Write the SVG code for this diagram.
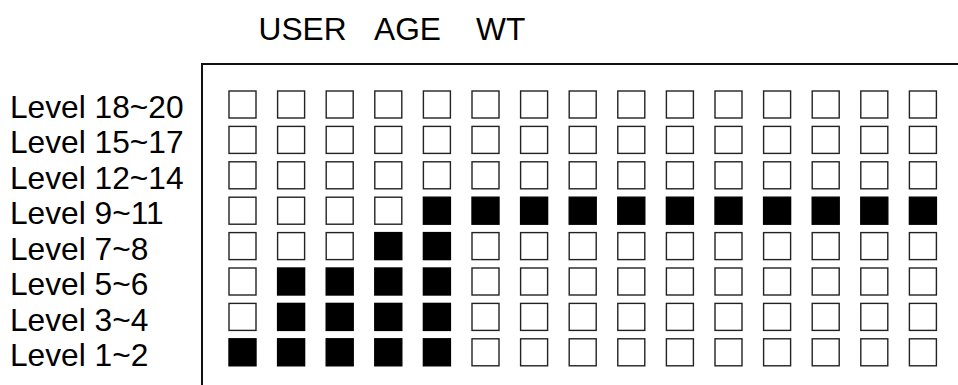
<svg xmlns="http://www.w3.org/2000/svg" width="958" height="385" viewBox="0 0 958 385">
<style>
text{font-family:"Liberation Sans",Arial,sans-serif;font-size:31.7px;fill:#000}
.e{fill:#fff;stroke:#222;stroke-width:1.4}
.f{fill:#000;stroke:#000;stroke-width:1.4}
</style>
<rect width="958" height="385" fill="#fff"/>
<g id="headers">
<text x="258.5" y="40">USER</text>
<text x="374" y="40">AGE</text>
<text x="476" y="40">WT</text>
</g>
<g id="frame"><polyline points="202,385 202,64 958,64" fill="none" stroke="#111" stroke-width="2"/></g>
<g id="labels">
<text x="10" y="117.5">Level 18~20</text>
<text x="10" y="153">Level 15~17</text>
<text x="10" y="188.5">Level 12~14</text>
<text x="10" y="224">Level 9~11</text>
<text x="10" y="259.5">Level 7~8</text>
<text x="10" y="295">Level 5~6</text>
<text x="10" y="330.5">Level 3~4</text>
<text x="10" y="366">Level 1~2</text>
</g>
<g id="row-18-20">
<rect class="e" x="229" y="91" width="27" height="27"/><rect class="e" x="277.6" y="91" width="27" height="27"/><rect class="e" x="326.2" y="91" width="27" height="27"/><rect class="e" x="374.8" y="91" width="27" height="27"/><rect class="e" x="423.4" y="91" width="27" height="27"/><rect class="e" x="472" y="91" width="27" height="27"/><rect class="e" x="520.6" y="91" width="27" height="27"/><rect class="e" x="569.2" y="91" width="27" height="27"/><rect class="e" x="617.8" y="91" width="27" height="27"/><rect class="e" x="666.4" y="91" width="27" height="27"/><rect class="e" x="715" y="91" width="27" height="27"/><rect class="e" x="763.6" y="91" width="27" height="27"/><rect class="e" x="812.2" y="91" width="27" height="27"/><rect class="e" x="860.8" y="91" width="27" height="27"/><rect class="e" x="909.4" y="91" width="27" height="27"/>
</g>
<g id="row-15-17">
<rect class="e" x="229" y="126.4" width="27" height="27"/><rect class="e" x="277.6" y="126.4" width="27" height="27"/><rect class="e" x="326.2" y="126.4" width="27" height="27"/><rect class="e" x="374.8" y="126.4" width="27" height="27"/><rect class="e" x="423.4" y="126.4" width="27" height="27"/><rect class="e" x="472" y="126.4" width="27" height="27"/><rect class="e" x="520.6" y="126.4" width="27" height="27"/><rect class="e" x="569.2" y="126.4" width="27" height="27"/><rect class="e" x="617.8" y="126.4" width="27" height="27"/><rect class="e" x="666.4" y="126.4" width="27" height="27"/><rect class="e" x="715" y="126.4" width="27" height="27"/><rect class="e" x="763.6" y="126.4" width="27" height="27"/><rect class="e" x="812.2" y="126.4" width="27" height="27"/><rect class="e" x="860.8" y="126.4" width="27" height="27"/><rect class="e" x="909.4" y="126.4" width="27" height="27"/>
</g>
<g id="row-12-14">
<rect class="e" x="229" y="161.8" width="27" height="27"/><rect class="e" x="277.6" y="161.8" width="27" height="27"/><rect class="e" x="326.2" y="161.8" width="27" height="27"/><rect class="e" x="374.8" y="161.8" width="27" height="27"/><rect class="e" x="423.4" y="161.8" width="27" height="27"/><rect class="e" x="472" y="161.8" width="27" height="27"/><rect class="e" x="520.6" y="161.8" width="27" height="27"/><rect class="e" x="569.2" y="161.8" width="27" height="27"/><rect class="e" x="617.8" y="161.8" width="27" height="27"/><rect class="e" x="666.4" y="161.8" width="27" height="27"/><rect class="e" x="715" y="161.8" width="27" height="27"/><rect class="e" x="763.6" y="161.8" width="27" height="27"/><rect class="e" x="812.2" y="161.8" width="27" height="27"/><rect class="e" x="860.8" y="161.8" width="27" height="27"/><rect class="e" x="909.4" y="161.8" width="27" height="27"/>
</g>
<g id="row-9-11">
<rect class="e" x="229" y="197.2" width="27" height="27"/><rect class="e" x="277.6" y="197.2" width="27" height="27"/><rect class="e" x="326.2" y="197.2" width="27" height="27"/><rect class="e" x="374.8" y="197.2" width="27" height="27"/><rect class="f" x="423.4" y="197.2" width="27" height="27"/><rect class="f" x="472" y="197.2" width="27" height="27"/><rect class="f" x="520.6" y="197.2" width="27" height="27"/><rect class="f" x="569.2" y="197.2" width="27" height="27"/><rect class="f" x="617.8" y="197.2" width="27" height="27"/><rect class="f" x="666.4" y="197.2" width="27" height="27"/><rect class="f" x="715" y="197.2" width="27" height="27"/><rect class="f" x="763.6" y="197.2" width="27" height="27"/><rect class="f" x="812.2" y="197.2" width="27" height="27"/><rect class="f" x="860.8" y="197.2" width="27" height="27"/><rect class="f" x="909.4" y="197.2" width="27" height="27"/>
</g>
<g id="row-7-8">
<rect class="e" x="229" y="232.6" width="27" height="27"/><rect class="e" x="277.6" y="232.6" width="27" height="27"/><rect class="e" x="326.2" y="232.6" width="27" height="27"/><rect class="f" x="374.8" y="232.6" width="27" height="27"/><rect class="f" x="423.4" y="232.6" width="27" height="27"/><rect class="e" x="472" y="232.6" width="27" height="27"/><rect class="e" x="520.6" y="232.6" width="27" height="27"/><rect class="e" x="569.2" y="232.6" width="27" height="27"/><rect class="e" x="617.8" y="232.6" width="27" height="27"/><rect class="e" x="666.4" y="232.6" width="27" height="27"/><rect class="e" x="715" y="232.6" width="27" height="27"/><rect class="e" x="763.6" y="232.6" width="27" height="27"/><rect class="e" x="812.2" y="232.6" width="27" height="27"/><rect class="e" x="860.8" y="232.6" width="27" height="27"/><rect class="e" x="909.4" y="232.6" width="27" height="27"/>
</g>
<g id="row-5-6">
<rect class="e" x="229" y="268" width="27" height="27"/><rect class="f" x="277.6" y="268" width="27" height="27"/><rect class="f" x="326.2" y="268" width="27" height="27"/><rect class="f" x="374.8" y="268" width="27" height="27"/><rect class="f" x="423.4" y="268" width="27" height="27"/><rect class="e" x="472" y="268" width="27" height="27"/><rect class="e" x="520.6" y="268" width="27" height="27"/><rect class="e" x="569.2" y="268" width="27" height="27"/><rect class="e" x="617.8" y="268" width="27" height="27"/><rect class="e" x="666.4" y="268" width="27" height="27"/><rect class="e" x="715" y="268" width="27" height="27"/><rect class="e" x="763.6" y="268" width="27" height="27"/><rect class="e" x="812.2" y="268" width="27" height="27"/><rect class="e" x="860.8" y="268" width="27" height="27"/><rect class="e" x="909.4" y="268" width="27" height="27"/>
</g>
<g id="row-3-4">
<rect class="e" x="229" y="303.4" width="27" height="27"/><rect class="f" x="277.6" y="303.4" width="27" height="27"/><rect class="f" x="326.2" y="303.4" width="27" height="27"/><rect class="f" x="374.8" y="303.4" width="27" height="27"/><rect class="f" x="423.4" y="303.4" width="27" height="27"/><rect class="e" x="472" y="303.4" width="27" height="27"/><rect class="e" x="520.6" y="303.4" width="27" height="27"/><rect class="e" x="569.2" y="303.4" width="27" height="27"/><rect class="e" x="617.8" y="303.4" width="27" height="27"/><rect class="e" x="666.4" y="303.4" width="27" height="27"/><rect class="e" x="715" y="303.4" width="27" height="27"/><rect class="e" x="763.6" y="303.4" width="27" height="27"/><rect class="e" x="812.2" y="303.4" width="27" height="27"/><rect class="e" x="860.8" y="303.4" width="27" height="27"/><rect class="e" x="909.4" y="303.4" width="27" height="27"/>
</g>
<g id="row-1-2">
<rect class="f" x="229" y="338.8" width="27" height="27"/><rect class="f" x="277.6" y="338.8" width="27" height="27"/><rect class="f" x="326.2" y="338.8" width="27" height="27"/><rect class="f" x="374.8" y="338.8" width="27" height="27"/><rect class="f" x="423.4" y="338.8" width="27" height="27"/><rect class="e" x="472" y="338.8" width="27" height="27"/><rect class="e" x="520.6" y="338.8" width="27" height="27"/><rect class="e" x="569.2" y="338.8" width="27" height="27"/><rect class="e" x="617.8" y="338.8" width="27" height="27"/><rect class="e" x="666.4" y="338.8" width="27" height="27"/><rect class="e" x="715" y="338.8" width="27" height="27"/><rect class="e" x="763.6" y="338.8" width="27" height="27"/><rect class="e" x="812.2" y="338.8" width="27" height="27"/><rect class="e" x="860.8" y="338.8" width="27" height="27"/><rect class="e" x="909.4" y="338.8" width="27" height="27"/>
</g>
</svg>
